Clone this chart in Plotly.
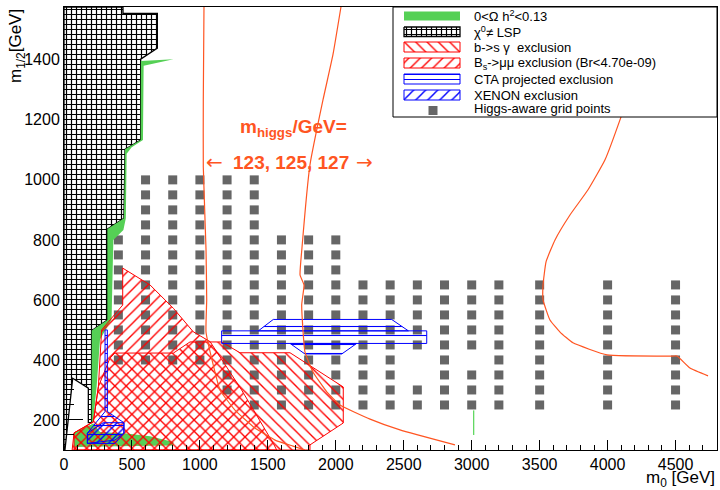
import plotly.graph_objects as go

# ---------------- data (GeV) ----------------
grid_m0 = [400, 600, 800, 1000, 1200, 1400, 1600, 1800, 2000,
           2200, 2400, 2600, 2800, 3000, 3200, 3500, 4000, 4500]
grid_m12 = [
    [400, 450, 500, 550, 600, 650, 700, 750, 800],
    [400, 450, 500, 550, 600, 650, 700, 750, 800, 850, 900, 950, 1000],
    [400, 450, 500, 550, 600, 650, 700, 750, 800, 850, 900, 950, 1000],
    [400, 450, 500, 550, 600, 650, 700, 750, 800, 850, 900, 950, 1000],
    [300, 350, 400, 450, 500, 550, 600, 650, 700, 750, 800, 850, 900, 950, 1000],
    [250, 300, 350, 400, 450, 500, 550, 600, 650, 700, 750, 800, 850, 900, 950, 1000],
    [250, 300, 350, 400, 450, 500, 550, 600, 650, 700, 750, 800],
    [250, 300, 350, 400, 450, 500, 550, 600, 650, 700, 750, 800],
    [250, 300, 350, 400, 450, 500, 550, 600, 650, 700, 750, 800],
    [250, 300, 350, 400, 450, 500, 550, 600, 650],
    [250, 300, 350, 400, 450, 500, 550, 600, 650],
    [250, 300, 450, 500, 550, 600, 650],
    [250, 300, 350, 400, 450, 500, 550, 600, 650],
    [250, 300, 350, 450, 500, 550, 600, 650],
    [250, 300, 350, 400, 450, 500, 550, 600, 650],
    [250, 300, 350, 400, 450, 500, 550, 600, 650],
    [250, 300, 350, 400, 450, 500, 550, 600, 650],
    [250, 300, 350, 400, 450, 500, 550, 600, 650],
]

lsp_m0 = [0, 434, 434, 687, 687, 564, 564, 449, 441, 319, 319, 204, 204, 179, 179, 64, 7, 0]
lsp_m12 = [1576, 1576, 1555, 1555, 1439, 1402, 1133, 1102, 872, 836, 533, 498, 191, 191, 306, 339, 100, 100]

relic1_m0 = [566, 805, 586, 581, 498, 461, 455, 437, 363, 350, 265, 240, 216, 204, 204, 319, 319, 441, 449, 564]
relic1_m12 = [1396, 1402, 1380, 1133, 1109, 1087, 872, 833, 800, 535, 468, 311, 200, 191, 498, 533, 836, 872, 1102, 1133]
relic2_m0 = [74, 74, 216, 265, 461, 633, 805, 805, 510, 74]
relic2_m12 = [112, 158, 188, 160, 155, 146, 127, 115, 113, 110]

bsmm_m0 = [74, 74, 216, 253, 277, 432, 432, 633, 805, 951, 1075, 1307, 1540, 1565]
bsmm_m12 = [100, 157, 194, 311, 500, 583, 706, 650, 572, 494, 461, 300, 122, 100]

bsg_m0 = [60, 74, 216, 253, 338, 375, 805, 927, 1160, 1295, 1663, 2055, 2055, 1810, 1810]
bsg_m12 = [100, 157, 194, 311, 406, 423, 423, 460, 460, 424, 424, 310, 190, 117, 100]

cta_rect_m0 = [1160, 1160, 2669, 2669]
cta_rect_m12 = [455, 497, 497, 455]
cta_top_m0 = [1430, 1540, 2411, 2534]
cta_top_m12 = [497, 535, 535, 497]
cta_bot_m0 = [1663, 1773, 2044, 2154]
cta_bot_m12 = [455, 420, 420, 455]
cta_left_m0 = [302, 319, 319, 441, 441, 375, 172, 172, 302]
cta_left_m12 = [500, 500, 228, 191, 156, 133, 122, 156, 228]

xenon_m0 = [172, 172, 289, 441, 441, 375]
xenon_m12 = [122, 156, 191, 191, 156, 122]

h123_m0 = [1030, 1025, 1025, 1045, 1050, 1045, 1089, 1148, 1258, 1405, 1553, 1685, 1773]
h123_m12 = [1576, 1267, 1043, 767, 600, 493, 400, 300, 233, 173, 133, 113, 100]
h125_m0 = [2038, 1979, 1906, 1810, 1751, 1737, 1766, 1749, 1773, 1832, 1935, 2031, 2252, 2472, 2877]
h125_m12 = [1576, 1417, 1267, 1050, 773, 683, 650, 583, 427, 360, 293, 250, 203, 167, 117]
h127_m0 = [4386, 4238, 4099, 3981, 3856, 3723, 3613, 3547, 3525, 3525, 3576, 3650, 3745, 3996, 4481, 4511, 4606, 4739]
h127_m12 = [1576, 1400, 1210, 1067, 967, 883, 800, 727, 650, 600, 533, 493, 457, 417, 413, 413, 373, 347]

green_line_m0 = [3015, 3015]
green_line_m12 = [150, 232]

legend_labels = ["0<Ω h<sup>2</sup><0.13", "χ<sup>0</sup>≠ LSP", "b->s γ  exclusion",
                 "B<sub>s</sub>->μμ exclusion (Br<4.70e-09)", "CTA projected exclusion",
                 "XENON exclusion", "Higgs-aware grid points"]

# ---------------- style ----------------
RED = "#ff0000"
BLUE = "#0000ff"
GREEN = "#55d055"
ORANGE = "#ff5522"
GREY = "#666666"
FONT = "Liberation Sans"
CLEAR = "rgba(0,0,0,0)"

fig = go.Figure()

# grid points
gx, gy = [], []
for m0, col in zip(grid_m0, grid_m12):
    for v in col:
        gx.append(m0)
        gy.append(v)
fig.add_trace(go.Scatter(x=gx, y=gy, mode="markers",
                         marker=dict(symbol="square", size=9, color=GREY, line=dict(width=0))))


def region(xs, ys, line_color, line_width, pattern=None, fillcolor=CLEAR, xaxis="x", yaxis="y"):
    kw = dict(x=list(xs) + [xs[0]], y=list(ys) + [ys[0]], mode="lines", fill="toself",
              fillcolor=fillcolor, xaxis=xaxis, yaxis=yaxis,
              line=dict(color=line_color, width=line_width))
    if pattern is not None:
        kw["fillpattern"] = pattern
    fig.add_trace(go.Scatter(**kw))


lsp_pat = dict(shape="+", fgcolor="black", bgcolor=CLEAR, fgopacity=1, size=5, solidity=0.42)
bsg_pat = dict(shape="\\", fgcolor=RED, bgcolor=CLEAR, fgopacity=1, size=8, solidity=0.17)
bsmm_pat = dict(shape="/", fgcolor=RED, bgcolor=CLEAR, fgopacity=1, size=8, solidity=0.17)
cta_pat = dict(shape="-", fgcolor=BLUE, bgcolor=CLEAR, fgopacity=1, size=9, solidity=0.12)
xe_pat = dict(shape="/", fgcolor=BLUE, bgcolor=CLEAR, fgopacity=1, size=8.5, solidity=0.17)

region(lsp_m0, lsp_m12, "black", 1.3, lsp_pat)
region(relic1_m0, relic1_m12, CLEAR, 0, fillcolor=GREEN)
region(relic2_m0, relic2_m12, CLEAR, 0, fillcolor=GREEN)
region(bsmm_m0, bsmm_m12, RED, 1, bsmm_pat)
region(bsg_m0, bsg_m12, RED, 1, bsg_pat)
region(cta_rect_m0, cta_rect_m12, BLUE, 1, cta_pat)
region(cta_top_m0, cta_top_m12, BLUE, 1, cta_pat)
region(cta_bot_m0, cta_bot_m12, BLUE, 1, cta_pat)
region(cta_left_m0, cta_left_m12, BLUE, 1, cta_pat)
region(xenon_m0, xenon_m12, BLUE, 1, xe_pat)

for xs, ys in [(h123_m0, h123_m12), (h125_m0, h125_m12), (h127_m0, h127_m12)]:
    fig.add_trace(go.Scatter(x=xs, y=ys, mode="lines", line=dict(color=ORANGE, width=1.2, shape="spline", smoothing=0.4)))
fig.add_trace(go.Scatter(x=green_line_m0, y=green_line_m12, mode="lines", line=dict(color="#33cc33", width=1)))

# ---------------- legend (pixel-unit overlay axes) ----------------
region([393, 717, 717, 393], [7, 7, 117, 117], "black", 1, fillcolor="white", xaxis="x2", yaxis="y2")
sw_x0, sw_x1 = 404, 460
rows = [(11.5, 20.5), (27, 36.5), (42, 52), (58, 68), (74, 84), (90, 100)]
sw_styles = [
    dict(line_color=GREEN, line_width=0, fillcolor=GREEN),
    dict(line_color="black", line_width=1.3, pattern=lsp_pat),
    dict(line_color=RED, line_width=1, pattern=bsg_pat),
    dict(line_color=RED, line_width=1, pattern=bsmm_pat),
    dict(line_color=BLUE, line_width=1, pattern=dict(shape="-", fgcolor=BLUE, bgcolor=CLEAR, fgopacity=1, size=5, solidity=0.2)),
    dict(line_color=BLUE, line_width=1, pattern=xe_pat),
]
for (y0, y1), st in zip(rows, sw_styles):
    region([sw_x0, sw_x1, sw_x1, sw_x0], [y0, y0, y1, y1], xaxis="x2", yaxis="y2", **st)
fig.add_trace(go.Scatter(x=[433], y=[110.5], mode="markers", xaxis="x2", yaxis="y2",
                         marker=dict(symbol="square", size=9, color=GREY)))

label_y = [15.5, 31.5, 47, 63, 79, 95, 108]
ann = []
for lab, yy in zip(legend_labels, label_y):
    ann.append(dict(x=472, y=yy, xref="x2", yref="y2", text=lab, showarrow=False,
                    xanchor="left", yanchor="middle", font=dict(family=FONT, size=13, color="black")))

# higgs annotation
ann.append(dict(x=293, y=128, xref="x2", yref="y2", text="<b>m<sub>higgs</sub>/GeV=</b>", showarrow=False,
                xanchor="center", yanchor="middle", font=dict(family=FONT, size=19, color=ORANGE)))
ann.append(dict(x=291, y=162, xref="x2", yref="y2", text="<b>123, 125, 127</b>", showarrow=False,
                xanchor="center", yanchor="middle", font=dict(family=FONT, size=19, color=ORANGE)))
ann.append(dict(x=214, y=162, xref="x2", yref="y2", text="←", showarrow=False,
                xanchor="center", yanchor="middle", font=dict(family="DejaVu Sans", size=20, color=ORANGE)))
ann.append(dict(x=364, y=162, xref="x2", yref="y2", text="→", showarrow=False,
                xanchor="center", yanchor="middle", font=dict(family="DejaVu Sans", size=20, color=ORANGE)))

# axis titles (paper coords)
ann.append(dict(x=1.0, y=-29 / 443, xref="paper", yref="paper", text="m<sub>0</sub> [GeV]", showarrow=False,
                xanchor="right", yanchor="middle", font=dict(family=FONT, size=17, color="black")))
ann.append(dict(x=-47 / 653, y=1.0, xref="paper", yref="paper", text="m<sub>1/2</sub>[GeV]", showarrow=False,
                textangle=-90, xanchor="center", yanchor="top", font=dict(family=FONT, size=17, color="black")))

fig.update_layout(
    width=720, height=490,
    margin=dict(l=64, r=3, t=7, b=40),
    paper_bgcolor="white", plot_bgcolor="white",
    showlegend=False,
    annotations=ann,
    xaxis=dict(range=[0, 4805], showgrid=False, zeroline=False, showline=True, linecolor="black",
               linewidth=1, mirror=True, ticks="inside", ticklen=10, tickcolor="black",
               tickvals=[0, 500, 1000, 1500, 2000, 2500, 3000, 3500, 4000, 4500],
               tickfont=dict(family=FONT, size=16, color="black"),
               minor=dict(dtick=100, ticklen=5, ticks="inside", tickcolor="black", showgrid=False)),
    yaxis=dict(range=[100, 1576], showgrid=False, zeroline=False, showline=True, linecolor="black",
               linewidth=1, mirror=True, ticks="inside", ticklen=19, tickcolor="black",
               tickvals=[200, 400, 600, 800, 1000, 1200, 1400],
               tickfont=dict(family=FONT, size=16, color="black"),
               minor=dict(dtick=50, ticklen=10, ticks="inside", tickcolor="black", showgrid=False)),
    xaxis2=dict(overlaying="x", range=[64, 717], visible=False, fixedrange=True),
    yaxis2=dict(overlaying="y", range=[450, 7], visible=False, fixedrange=True),
)

fig.write_html("out.html")
